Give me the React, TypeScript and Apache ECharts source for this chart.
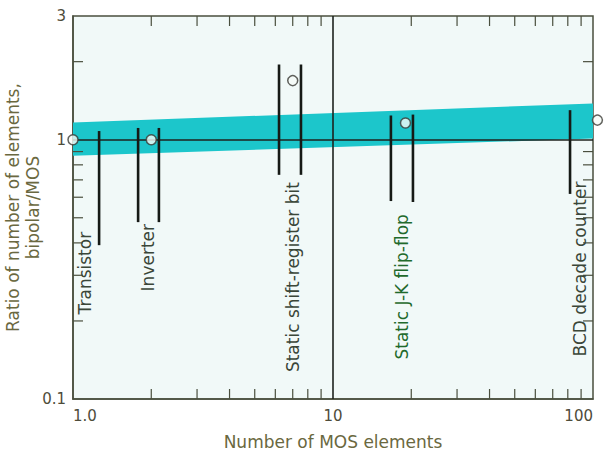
import React, { useEffect, useRef } from "react";
import * as echarts from "echarts";

// ---- data ----
const pointX = [1, 2, 7, 19, 104];
const pointY = [1.0, 1.0, 1.69, 1.16, 1.19];

const bandX = [1, 100];
const bandLow = [0.867, 1.01];
const bandHigh = [1.164, 1.38];

const barX = [1.26, 1.78, 2.14, 6.2, 7.53, 16.7, 20.3, 81.6];
const barLow = [0.392, 0.481, 0.481, 0.732, 0.732, 0.58, 0.575, 0.618];
const barHigh = [1.08, 1.11, 1.11, 1.95, 1.95, 1.24, 1.25, 1.3];

const labelNames = [
  "Transistor",
  "Inverter",
  "Static shift-register bit",
  "Static J-K flip-flop",
  "BCD decade counter",
];
const labelX = [1.11, 1.94, 7.0, 18.4, 89];
const labelY = [0.212, 0.26, 0.127, 0.142, 0.146];
const labelColors = ["#3a4638", "#3a4638", "#3a4638", "#1f6a2c", "#3a4638"];

const xMinorTicks = [2, 3, 4, 5, 6, 7, 8, 9, 20, 30, 40, 50, 60, 70, 80, 90];
const yMinorTicks = [0.2, 0.3, 0.4, 0.5, 0.6, 0.7, 0.8, 0.9, 2];

const xTickLabels: Record<string, string> = { "1": "1.0", "10": "10", "100": "100" };
const yTickLabels: Record<string, string> = { "0.1": "0.1", "1": "1", "3": "3" };

const xTitle = "Number of MOS elements";
const yTitle = "Ratio of number of elements,\nbipolar/MOS";

const FONT = "DejaVu Sans";
const TICK_LEN = 10;

function fmt(map: Record<string, string>, v: number) {
  const keys = Object.keys(map);
  let best = keys[0];
  let bd = Infinity;
  for (const k of keys) {
    const d = Math.abs(Math.log10(Number(k)) - Math.log10(v));
    if (d < bd) {
      bd = d;
      best = k;
    }
  }
  return bd < 0.01 ? map[best] : "";
}

export default function App() {
  const ref = useRef<HTMLDivElement>(null);
  useEffect(() => {
    if (!ref.current) return;
    const chart = echarts.init(ref.current, undefined, { renderer: "svg" });
    const axisColor = "#4a4f3e";
    const option: any = {
      animation: false,
      backgroundColor: "#ffffff",
      grid: {
        left: 73,
        right: 11,
        top: 16,
        bottom: 61,
        containLabel: false,
        outerBoundsMode: "none",
        show: true,
        backgroundColor: "#f1f9f8",
        borderColor: axisColor,
        borderWidth: 1.5,
      },
      xAxis: {
        type: "log",
        logBase: 10,
        min: 1,
        max: 100,
        axisLine: { show: true, lineStyle: { color: axisColor, width: 1.5 } },
        axisTick: { show: false },
        splitLine: { show: false },
        axisLabel: {
          color: "#4e4c3a",
          fontSize: 15,
          fontFamily: FONT,
          margin: 9,
          alignMinLabel: "left",
          alignMaxLabel: "right",
          showMinLabel: true,
          showMaxLabel: true,
          formatter: (v: number) => fmt(xTickLabels, v),
        },
        name: xTitle,
        nameLocation: "middle",
        nameGap: 34,
        nameMoveOverlap: false,
        nameTextStyle: { color: "#6a6840", fontSize: 17, fontFamily: FONT },
      },
      yAxis: {
        type: "log",
        logBase: 10,
        min: 0.1,
        max: 3,
        axisLine: { show: true, lineStyle: { color: axisColor, width: 1.5 } },
        axisTick: { show: false },
        splitLine: { show: false },
        axisLabel: {
          color: "#4e4c3a",
          fontSize: 15,
          fontFamily: FONT,
          margin: 7,
          showMinLabel: true,
          showMaxLabel: true,
          formatter: (v: number) => fmt(yTickLabels, v),
        },
        name: yTitle,
        nameLocation: "middle",
        nameRotate: 90,
        nameGap: 30,
        nameMoveOverlap: false,
        nameTextStyle: {
          color: "#6a6840",
          fontSize: 17,
          lineHeight: 20,
          fontFamily: FONT,
        },
      },
      series: [
        {
          type: "custom",
          name: "band",
          z: 1,
          silent: true,
          data: [[bandX[0], bandLow[0]]],
          renderItem: (_p: any, api: any) => {
            const pts: number[][] = [];
            for (let i = 0; i < bandX.length; i++) pts.push(api.coord([bandX[i], bandHigh[i]]));
            for (let i = bandX.length - 1; i >= 0; i--) pts.push(api.coord([bandX[i], bandLow[i]]));
            return {
              type: "polygon",
              shape: { points: pts },
              style: { fill: "#1cc6cb" },
            };
          },
        },
        {
          type: "custom",
          name: "xticks",
          z: 2,
          silent: true,
          clip: false,
          data: xMinorTicks.map((v) => [v, 1]),
          renderItem: (_p: any, api: any) => {
            const b = api.coord([api.value(0), 0.1]);
            const t = api.coord([api.value(0), 3]);
            const st = { stroke: axisColor, lineWidth: 1.2 };
            return {
              type: "group",
              children: [
                { type: "line", shape: { x1: b[0], y1: b[1], x2: b[0], y2: b[1] - TICK_LEN }, style: st },
                { type: "line", shape: { x1: t[0], y1: t[1], x2: t[0], y2: t[1] + TICK_LEN }, style: st },
              ],
            };
          },
        },
        {
          type: "custom",
          name: "yticks",
          z: 2,
          silent: true,
          clip: false,
          data: yMinorTicks.map((v) => [1, v]),
          renderItem: (_p: any, api: any) => {
            const l = api.coord([1, api.value(1)]);
            const r = api.coord([100, api.value(1)]);
            const st = { stroke: axisColor, lineWidth: 1.2 };
            return {
              type: "group",
              children: [
                { type: "line", shape: { x1: l[0], y1: l[1], x2: l[0] + TICK_LEN, y2: l[1] }, style: st },
                { type: "line", shape: { x1: r[0], y1: r[1], x2: r[0] - TICK_LEN, y2: r[1] }, style: st },
              ],
            };
          },
        },
        {
          type: "custom",
          name: "bars",
          z: 4,
          silent: true,
          data: barX.map((x, i) => [x, barLow[i], barHigh[i]]),
          encode: { x: 0, y: [1, 2] },
          renderItem: (_p: any, api: any) => {
            const a = api.coord([api.value(0), api.value(1)]);
            const b = api.coord([api.value(0), api.value(2)]);
            return {
              type: "line",
              shape: { x1: a[0], y1: a[1], x2: b[0], y2: b[1] },
              style: { stroke: "#161a16", lineWidth: 2.6 },
            };
          },
        },
        {
          type: "custom",
          name: "labels",
          z: 4,
          silent: true,
          data: labelX.map((x, i) => [x, labelY[i]]),
          renderItem: (p: any, api: any) => {
            const c = api.coord([api.value(0), api.value(1)]);
            const i = p.dataIndex;
            return {
              type: "text",
              x: c[0],
              y: c[1],
              rotation: Math.PI / 2,
              style: {
                text: labelNames[i],
                fill: labelColors[i],
                fontSize: 17,
                fontFamily: FONT,
                align: "left",
                verticalAlign: "middle",
              },
            };
          },
        },
        {
          type: "scatter",
          name: "points",
          z: 6,
          clip: false,
          silent: true,
          symbol: "circle",
          symbolSize: 10,
          itemStyle: { color: "#f6fbf8", borderColor: "#3a3a34", borderWidth: 1.5 },
          data: pointX.map((x, i) => [x, pointY[i]]),
          markLine: {
            silent: true,
            symbol: "none",
            z: 3,
            label: { show: false },
            lineStyle: { color: "#1e221e", width: 1.6, type: "solid" },
            data: [{ yAxis: 1 }, { xAxis: 10 }],
          },
        },
      ],
    };
    chart.setOption(option);
    return () => chart.dispose();
  }, []);
  return (
    <div
      ref={ref}
      style={{ position: "fixed", left: 0, top: 0, width: 604, height: 460 }}
    />
  );
}
